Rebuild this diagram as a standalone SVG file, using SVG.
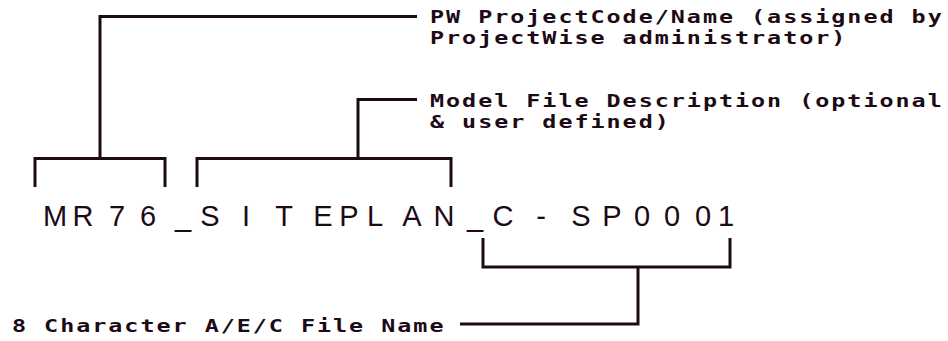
<svg xmlns="http://www.w3.org/2000/svg" width="948" height="341" viewBox="0 0 948 341">
  <style>
    .bg { fill: #ffffff; }
    .conn { fill: none; stroke: #1c0a16; stroke-width: 3; stroke-linejoin: miter; stroke-linecap: butt; }
    .label { font-family: "DejaVu Sans Mono", "Liberation Mono", monospace; font-weight: bold; font-size: 18px; letter-spacing: 1.52px; fill: #1c0a16; }
    .main { font-family: "Liberation Sans", Arial, sans-serif; font-size: 29px; fill: #1c0a16; text-anchor: middle; }
  </style>
  <rect class="bg" x="0" y="0" width="948" height="341"/>

  <g id="connectors">
    <polyline class="conn" points="417,16.5 100,16.5 100,158.5"/>
    <polyline class="conn" points="35,187 35,158.5 165,158.5 165,187"/>
    <polyline class="conn" points="197,187 197,158.5 451,158.5 451,187"/>
    <polyline class="conn" points="417,99.5 358,99.5 358,158.5"/>
    <polyline class="conn" points="483,238 483,267 730,267 730,238"/>
    <polyline class="conn" points="460,324 638,324 638,267"/>
  </g>

  <g id="filename">
    <text class="main" y="226" x="55 83 117 148 183 210 246 284 323 349 375 412 444 475 503 541 581 612 642 672 703 726">MR76_SITEPLAN_C-SP0001</text>
  </g>

  <g id="label-project" transform="scale(1.3,1)">
    <text class="label" x="330.77" y="23.5">PW ProjectCode/Name (assigned by</text>
    <text class="label" x="330.77" y="44.5">ProjectWise administrator)</text>
  </g>

  <g id="label-model" transform="scale(1.3,1)">
    <text class="label" x="330.77" y="107">Model File Description (optional</text>
    <text class="label" x="330.77" y="128">&amp; user defined)</text>
  </g>

  <g id="label-filename" transform="scale(1.3,1)">
    <text class="label" x="9.23" y="332">8 Character A/E/C File Name</text>
  </g>
</svg>
